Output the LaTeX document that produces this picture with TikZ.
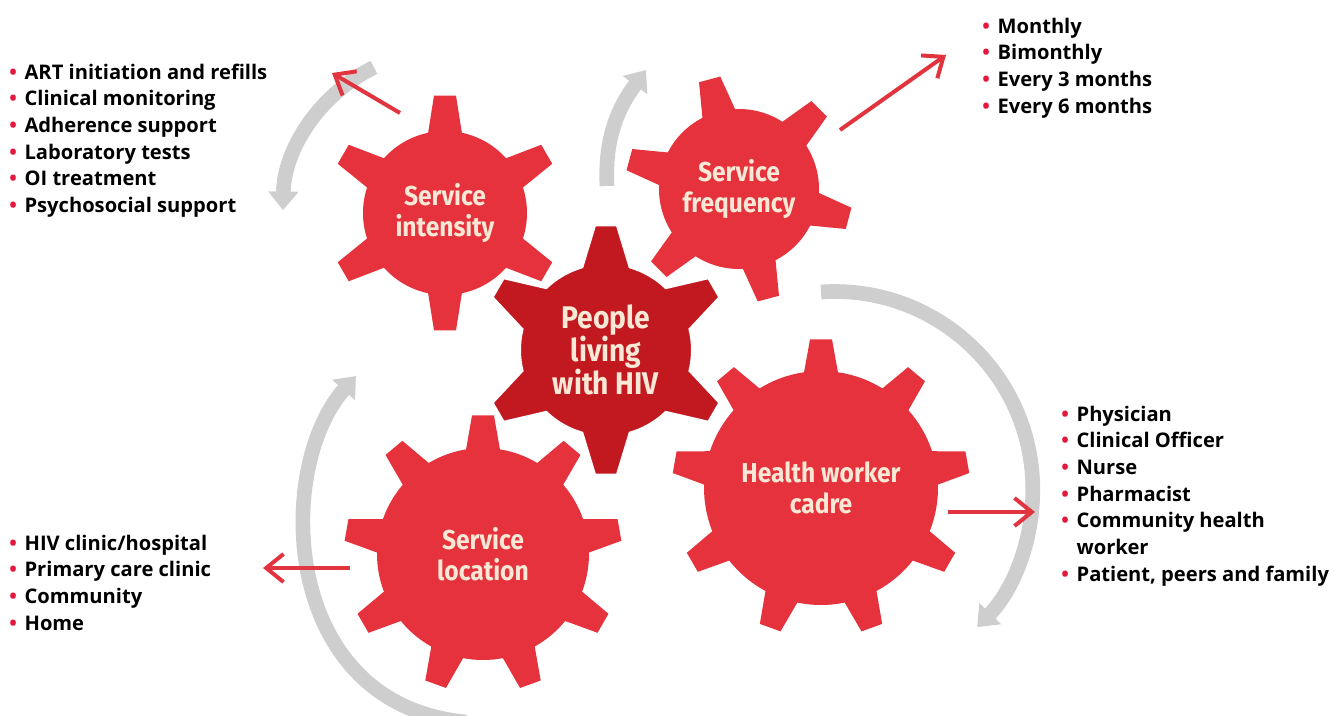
\documentclass[tikz,border=0pt]{standalone}
\usepackage{fontspec}
\setmainfont{Open Sans}
\newfontfamily\gearfont[FakeStretch=0.9]{Fira Sans}
\usetikzlibrary{arrows.meta,positioning}
\definecolor{gearred}{RGB}{229,50,60}
\definecolor{hubred}{RGB}{194,24,32}
\definecolor{arcgrey}{RGB}{206,206,206}
\definecolor{arrowred}{RGB}{226,52,62}
\definecolor{cream}{RGB}{250,232,214}
\definecolor{dotred}{RGB}{228,24,60}
\pgfdeclarelayer{back}
\pgfsetlayers{back,main}

\newcommand\itm{\makebox[11.5pt][l]{\textcolor{dotred}{\textbullet}}}
% gear behind a named node: node, teeth, root radius, tip radius, first tooth, base half-width, style
\newcommand\gear[7]{%
  \pgfmathsetmacro\gstep{360/#2}%
  \pgfmathsetmacro\gwb{deg(#6/#3)}%
  \pgfmathsetmacro\gwt{deg(11/#4)}%
  \begin{pgfonlayer}{back}
    \fill[#7,shift={(#1.center)}] ({#5-\gwb}:#3)
      \foreach \k in {1,...,#2}{
        -- ({#5+(\k-1)*\gstep-\gwt}:#4) -- ({#5+(\k-1)*\gstep+\gwt}:#4)
        -- ({#5+(\k-1)*\gstep+\gwb}:#3)
        arc[start angle={#5+(\k-1)*\gstep+\gwb},end angle={#5+\k*\gstep-\gwb},radius=#3]}
      -- cycle;
  \end{pgfonlayer}}

\begin{document}
\begin{tikzpicture}[x=0.75pt,y=0.75pt,
  gearlabel/.style={text=cream,align=center,inner sep=0,
    font=\gearfont\bfseries\fontsize{20.5}{23}\selectfont},
  list/.style={anchor=north west,inner sep=0,align=left,
    font=\bfseries\fontsize{15.1}{20}\selectfont},
  arcline/.style={draw=arcgrey,line width=11pt,-{Triangle[width=22pt,length=14pt]}},
  redarrow/.style={draw=arrowred,line width=3pt,-{Straight Barb[length=13pt,width=21pt]}}]
  \useasboundingbox (0,0) rectangle (1329,-715);
  \clip (0,0) rectangle (1329,-715);

  % gears
  \node[gearlabel] (intensity) at (445,-213) {Service\\intensity};
  \node[gearlabel] (frequency) at (739,-189) {Service\\frequency};
  \node[gearlabel] (cadre) at (821,-488) {Health worker\\cadre};
  \node[gearlabel] (location) at (483,-554) {Service\\location};
  \node[gearlabel,font=\gearfont\bfseries\fontsize{23.5}{24.8}\selectfont] (hub) at (606,-350) {People\\living\\with HIV};
  \gear{intensity}{6}{82}{118}{90}{17}{gearred}
  \gear{frequency}{6}{80}{114}{105}{17}{gearred}
  \gear{cadre}{9}{117}{149}{90}{17}{gearred}
  \gear{location}{9}{106}{139}{90}{17}{gearred}
  \gear{hub}{6}{86}{125}{90}{24}{hubred,draw=white,line width=1.5pt}

  % grey turning arrows
  \draw[arcline] (intensity.center) ++(116:162) arc[start angle=116,end angle=179,radius=162];
  \draw[arcline] (607,-186) .. controls (604,-130) and (624,-100) .. (646,-70);
  \draw[arcline] (821,-292) arc[start angle=94,end angle=-44,radius=198];
  \draw[arcline] (466,-722) .. controls (280,-705) and (274,-468) .. (356,-376);

  % red arrows to the lists
  \coordinate (int-from) at (400,-113);  \coordinate (int-to) at (332,-73);
  \coordinate (freq-from) at (840,-130); \coordinate (freq-to) at (946,-55);
  \coordinate (cadre-from) at (948,-512); \coordinate (cadre-to) at (1035,-512);
  \coordinate (loc-from) at (350,-568);  \coordinate (loc-to) at (263,-568);
  \draw[redarrow] (int-from) -- (int-to);
  \draw[redarrow] (freq-from) -- (freq-to);
  \draw[redarrow] (cadre-from) -- (cadre-to);
  \draw[redarrow] (loc-from) -- (loc-to);

  % lists
  \node[list] (int-list) at (9,-63.5) {\itm ART initiation and refills\\\itm Clinical monitoring\\
    \itm Adherence support\\\itm Laboratory tests\\\itm OI treatment\\\itm Psychosocial support};
  \node[list] (freq-list) at (982,-17.5) {\itm Monthly\\\itm Bimonthly\\\itm Every 3 months\\\itm Every 6 months};
  \node[list] (cadre-list) at (1061,-405.5) {\itm Physician\\\itm Clinical Officer\\\itm Nurse\\\itm Pharmacist\\
    \itm Community health\\\hspace*{11.5pt}worker\\\itm Patient, peers and family};
  \node[list] (loc-list) at (9,-534.5) {\itm HIV clinic/hospital\\\itm Primary care clinic\\\itm Community\\\itm Home};
\end{tikzpicture}
\end{document}
